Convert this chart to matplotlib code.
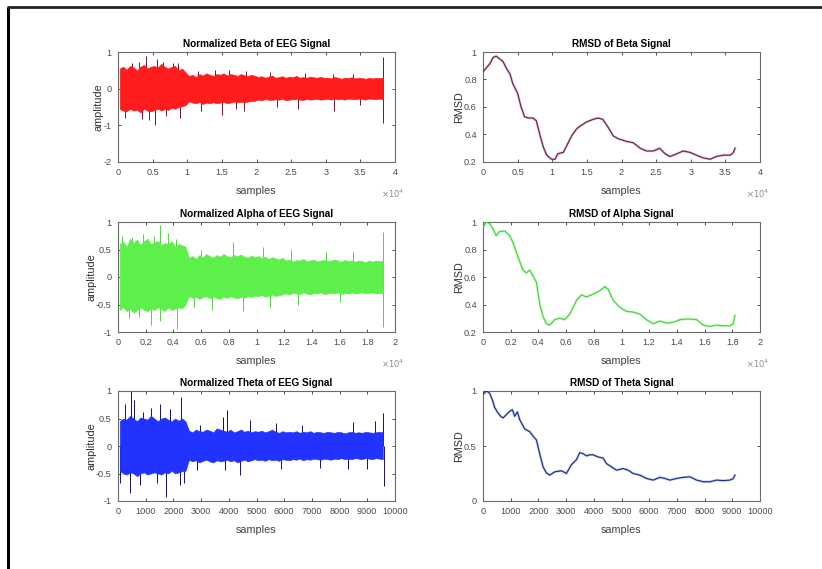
import numpy as np
import matplotlib
matplotlib.use("Agg")
import matplotlib.pyplot as plt
from matplotlib.ticker import FuncFormatter, FixedLocator
from matplotlib.lines import Line2D

plt.rcParams['axes.unicode_minus'] = False
NARROW = ['Liberation Sans Narrow', 'Liberation Sans', 'DejaVu Sans']
plt.rcParams['font.family'] = NARROW

# ---------------- band-pass signals: per-bin envelope of the dense trace ----------------
beta_end = 38500
beta_upper = [0.55, 0.6, 0.52, 0.62, 0.58, 0.5, 0.6, 0.65, 0.55, 0.6,
              0.62, 0.58, 0.68, 0.6, 0.55, 0.6, 0.62, 0.5, 0.55, 0.45,
              0.35, 0.38, 0.32, 0.4, 0.36, 0.42, 0.38, 0.35, 0.4, 0.38,
              0.42, 0.36, 0.4, 0.38, 0.35, 0.4, 0.37, 0.34, 0.38, 0.35,
              0.32, 0.34, 0.3, 0.33, 0.36, 0.3, 0.32, 0.34, 0.3, 0.33,
              0.31, 0.35, 0.3, 0.32, 0.3, 0.33, 0.31, 0.3, 0.32, 0.3,
              0.3, 0.28, 0.32, 0.3, 0.27, 0.3, 0.29, 0.31, 0.28, 0.3,
              0.29, 0.27, 0.3, 0.28, 0.3, 0.29, 0.3]
beta_lower = [-0.55, -0.6, -0.62, -0.55, -0.6, -0.58, -0.65, -0.55, -0.6, -0.62,
              -0.58, -0.55, -0.6, -0.55, -0.58, -0.52, -0.55, -0.5, -0.48, -0.45,
              -0.35, -0.38, -0.4, -0.36, -0.42, -0.38, -0.4, -0.37, -0.4, -0.38,
              -0.36, -0.4, -0.38, -0.35, -0.37, -0.36, -0.38, -0.35, -0.34, -0.33,
              -0.3, -0.32, -0.28, -0.3, -0.31, -0.29, -0.3, -0.28, -0.32, -0.3,
              -0.29, -0.28, -0.3, -0.31, -0.28, -0.3, -0.29, -0.28, -0.3, -0.29,
              -0.28, -0.3, -0.27, -0.29, -0.28, -0.3, -0.27, -0.28, -0.29, -0.27,
              -0.28, -0.3, -0.27, -0.28, -0.29, -0.27, -0.3]
beta_spike_x = [1000, 2000, 3000, 3500, 4000, 4500, 5300, 5700, 6500, 7000, 8000, 8600, 9000,
                11500, 12000, 14000, 15000, 16000, 17000, 18200, 18500, 22000, 23000,
                26000, 27000, 31000, 31200, 34000, 35000, 38200, 38300]
beta_spike_y = [-0.8, 0.7, 0.72, -0.82, 0.88, -0.85, -1.0, 0.8, 0.72, -0.75, 0.7, 0.7, -0.8,
                0.48, -0.6, 0.5, -0.72, 0.52, -0.55, -0.6, 0.47, 0.45, -0.5,
                -0.55, 0.42, 0.4, -0.6, 0.4, -0.45, 0.85, -0.95]

alpha_end = 19250
alpha_upper = [0.6, 0.65, 0.55, 0.7, 0.62, 0.68, 0.58, 0.65, 0.7, 0.6,
               0.63, 0.66, 0.58, 0.62, 0.6, 0.65, 0.55, 0.6, 0.58, 0.55,
               0.35, 0.38, 0.33, 0.4, 0.36, 0.42, 0.38, 0.35, 0.4, 0.37,
               0.42, 0.38, 0.36, 0.4, 0.38, 0.41, 0.37, 0.35, 0.39, 0.36,
               0.38, 0.35, 0.37, 0.33, 0.36, 0.34, 0.32, 0.35,
               0.3, 0.32, 0.28, 0.31, 0.3, 0.33, 0.29, 0.3, 0.32, 0.28,
               0.3, 0.31, 0.29, 0.3, 0.32, 0.3, 0.28, 0.31, 0.29, 0.3,
               0.28, 0.3, 0.29, 0.27, 0.3, 0.28, 0.3, 0.29, 0.3]
alpha_lower = [-0.6, -0.55, -0.62, -0.58, -0.65, -0.6, -0.55, -0.6, -0.62, -0.58,
               -0.6, -0.55, -0.58, -0.62, -0.55, -0.6, -0.58, -0.55, -0.57, -0.5,
               -0.35, -0.38, -0.36, -0.4, -0.37, -0.35, -0.39, -0.36, -0.38, -0.4,
               -0.36, -0.38, -0.35, -0.37, -0.39, -0.36, -0.38, -0.35, -0.36, -0.34,
               -0.35, -0.33, -0.36, -0.34, -0.32, -0.35, -0.33, -0.32,
               -0.3, -0.32, -0.29, -0.3, -0.31, -0.28, -0.3, -0.32, -0.29, -0.3,
               -0.28, -0.31, -0.3, -0.29, -0.3, -0.28, -0.31, -0.29, -0.3, -0.28,
               -0.3, -0.29, -0.28, -0.3, -0.29, -0.28, -0.3, -0.29, -0.3]
alpha_spike_x = [300, 800, 1000, 1500, 1800, 2400, 2600, 3000, 3050, 3600, 4200, 4250,
                 5500, 6000, 6800, 8300, 9000, 10500, 11000, 12500, 13000, 15000, 16000,
                 17000, 19100, 19150]
alpha_spike_y = [0.75, -0.75, 0.72, -0.72, 0.78, -0.88, 0.75, 0.95, -0.8, 0.8, 0.7, -0.95,
                 -0.55, 0.5, -0.6, 0.63, -0.62, 0.55, -0.55, 0.5, -0.5, 0.45, -0.45,
                 0.45, -0.9, 0.82]

theta_end = 9625
theta_upper = [0.45, 0.5, 0.48, 0.55, 0.5, 0.45, 0.52, 0.5, 0.48, 0.55,
               0.5, 0.45, 0.5, 0.52, 0.48, 0.45, 0.5, 0.46, 0.5, 0.45,
               0.28, 0.25, 0.3, 0.27, 0.26, 0.3, 0.28, 0.25, 0.32, 0.3,
               0.28, 0.26, 0.3, 0.25, 0.27, 0.3, 0.26, 0.28, 0.25, 0.27,
               0.26, 0.28, 0.25, 0.27, 0.3, 0.26, 0.24, 0.27, 0.25, 0.26,
               0.25, 0.27, 0.24, 0.26, 0.25, 0.27, 0.24, 0.26, 0.25, 0.24,
               0.26, 0.25, 0.24, 0.26, 0.25, 0.23, 0.25, 0.26, 0.24, 0.25,
               0.24, 0.26, 0.25, 0.24, 0.25, 0.26, 0.25]
theta_lower = [-0.45, -0.5, -0.52, -0.48, -0.5, -0.55, -0.5, -0.48, -0.52, -0.5,
               -0.48, -0.5, -0.52, -0.48, -0.5, -0.45, -0.5, -0.48, -0.46, -0.45,
               -0.25, -0.28, -0.26, -0.3, -0.27, -0.25, -0.28, -0.3, -0.26, -0.28,
               -0.27, -0.25, -0.28, -0.26, -0.3, -0.27, -0.25, -0.28, -0.26, -0.24,
               -0.26, -0.25, -0.27, -0.24, -0.26, -0.25, -0.27, -0.24, -0.25, -0.26,
               -0.24, -0.25, -0.23, -0.26, -0.24, -0.25, -0.23, -0.24, -0.25, -0.23,
               -0.24, -0.25, -0.23, -0.24, -0.22, -0.24, -0.23, -0.24, -0.22, -0.23,
               -0.24, -0.22, -0.23, -0.24, -0.22, -0.23, -0.24]
theta_spike_x = [60, 240, 420, 480, 560, 780, 900, 1200, 1390, 1500, 1750, 1870, 2230, 2290, 2400,
                 2850, 2950, 3800, 3850, 3920, 4400, 4750, 5720, 5900, 6650, 7300, 8300, 8500,
                 9000, 9280, 9580, 9600]
theta_spike_y = [-0.68, 0.77, -0.85, 1.0, 0.83, -0.7, 0.62, 0.7, -0.68, 0.77, -0.92, 0.68, -0.7, 0.9, -0.68,
                 -0.43, 0.38, 0.53, -0.43, 0.65, -0.52, 0.47, 0.41, -0.42, 0.38, -0.4, -0.42, 0.43,
                 -0.42, 0.45, 0.6, -0.73]

# ---------------- running RMSD curves ----------------
beta_rmsd_x = [0, 500, 1000, 1450, 1900, 2400, 2900, 3400, 3900, 4300, 5000, 5500, 6000, 6500,
               7200, 7700, 8200, 8700, 9200, 9900, 10400, 10800, 11600, 12000, 12800, 13500,
               14000, 14900, 15900, 16600, 17300, 18100, 18800, 19500, 20700, 21700, 22700,
               23600, 24600, 25500, 26300, 27000, 28000, 28900, 29900, 30800, 31800, 32800,
               33700, 34700, 35700, 36100, 36400]
beta_rmsd_y = [0.855, 0.886, 0.915, 0.96, 0.97, 0.95, 0.93, 0.88, 0.84, 0.77, 0.70, 0.60, 0.53,
               0.52, 0.52, 0.50, 0.40, 0.31, 0.25, 0.22, 0.22, 0.26, 0.27, 0.31, 0.39, 0.44,
               0.46, 0.49, 0.51, 0.52, 0.51, 0.45, 0.39, 0.37, 0.35, 0.34, 0.30, 0.28, 0.28,
               0.30, 0.26, 0.24, 0.26, 0.28, 0.27, 0.25, 0.23, 0.22, 0.24, 0.25, 0.25, 0.265,
               0.30]

alpha_rmsd_x = [0, 240, 480, 720, 960, 1200, 1570, 1930, 2170, 2530, 2890, 3130, 3370, 3610,
                3860, 4100, 4340, 4580, 4820, 5180, 5540, 5900, 6270, 6750, 7110, 7470, 7950,
                8430, 8800, 9040, 9400, 9880, 10360, 10840, 11330, 11800, 12290, 12770, 13250,
                13730, 14220, 14820, 15420, 15900, 16380, 16870, 17350, 17830, 18070, 18190]
alpha_rmsd_y = [0.96, 1.0, 0.99, 0.95, 0.90, 0.93, 0.935, 0.90, 0.85, 0.745, 0.65, 0.63, 0.65,
                0.61, 0.56, 0.40, 0.31, 0.26, 0.25, 0.29, 0.30, 0.29, 0.33, 0.43, 0.47, 0.455,
                0.475, 0.50, 0.53, 0.51, 0.43, 0.38, 0.35, 0.345, 0.33, 0.29, 0.26, 0.28, 0.265,
                0.27, 0.29, 0.295, 0.29, 0.25, 0.24, 0.25, 0.245, 0.245, 0.26, 0.32]

theta_rmsd_x = [0, 120, 240, 337, 422, 542, 639, 723, 843, 964, 1060, 1145, 1241, 1325, 1506,
                1687, 1807, 1928, 2048, 2169, 2289, 2410, 2590, 2831, 3012, 3193, 3373, 3494,
                3614, 3735, 3855, 3976, 4157, 4337, 4458, 4639, 4819, 5060, 5241, 5422, 5663,
                5904, 6145, 6386, 6566, 6747, 6988, 7229, 7470, 7711, 7952, 8193, 8434, 8675,
                8916, 9036, 9096]
theta_rmsd_y = [0.97, 1.0, 0.98, 0.92, 0.85, 0.80, 0.77, 0.755, 0.785, 0.815, 0.83, 0.77, 0.81,
                0.74, 0.655, 0.63, 0.59, 0.555, 0.43, 0.31, 0.255, 0.235, 0.265, 0.275, 0.25,
                0.33, 0.375, 0.44, 0.43, 0.41, 0.42, 0.42, 0.40, 0.39, 0.34, 0.31, 0.28, 0.295,
                0.28, 0.25, 0.235, 0.205, 0.19, 0.215, 0.205, 0.19, 0.205, 0.215, 0.22, 0.19,
                0.175, 0.175, 0.19, 0.185, 0.19, 0.205, 0.235]

# ---------------- figure ----------------
W, H = 822, 569
fig = plt.figure(figsize=(W / 100, H / 100), dpi=100)

# left/top frame lines of the page
fig.add_artist(Line2D([8 / W, 8 / W], [0, 1 - 7 / H], color='black', lw=2.2,
                      transform=fig.transFigure, solid_capstyle='butt'))
fig.add_artist(Line2D([7 / W, 1], [1 - 7 / H, 1 - 7 / H], color='#222222', lw=2.0,
                      transform=fig.transFigure, solid_capstyle='butt'))


def make_axes(x0, y0):
    return fig.add_axes([x0 / W, 1 - (y0 + 110) / H, 277 / W, 110 / H])


g = FuncFormatter(lambda v, p: '%g' % v)
TICK_C = '#4a4a4a'


def style(ax, xmax, xstep, ylim, yticks, scaled, title, ylabel):
    ax.set_xlim(0, xmax)
    ax.set_ylim(*ylim)
    ax.xaxis.set_major_locator(FixedLocator(np.arange(0, xmax + 1, xstep)))
    ax.yaxis.set_major_locator(FixedLocator(yticks))
    if scaled:
        ax.xaxis.set_major_formatter(FuncFormatter(lambda v, p: '%g' % (v / 1e4)))
        ax.text(0.99, -0.29, r'$\times10^4$', transform=ax.transAxes, ha='center',
                va='center', fontsize=6, color='#8a8a8a', family=NARROW)
    else:
        ax.xaxis.set_major_formatter(g)
    ax.yaxis.set_major_formatter(g)
    ax.tick_params(direction='in', top=True, right=True, length=2.5, width=0.6,
                   labelsize=6.6, colors='#303030', labelcolor=TICK_C, pad=4.5)
    for s in ax.spines.values():
        s.set_color('#6a6a6a')
        s.set_linewidth(0.8)
    ax.set_title(title, fontsize=7.2, fontweight='bold', pad=3.5)
    ax.set_xlabel('samples', fontsize=7.8, color='#404040', labelpad=6)
    ax.set_ylabel(ylabel, fontsize=7.8, color='#303030', labelpad=0)


def band(ax, end, upper, lower, sx, sy, color, spike_color):
    n = len(upper)
    step = end / n
    xc = (np.arange(n) + 0.5) * step
    ax.vlines(sx, 0, sy, color=spike_color, lw=0.7, zorder=2)
    ax.fill_between(xc, lower, upper, color=color, lw=0.4, edgecolor=color, zorder=3)


def rmsd(ax, x, y, core, halo):
    ax.plot(x, y, color=halo, lw=1.8, alpha=0.6, zorder=2)
    ax.plot(x, y, color=core, lw=0.8, zorder=3)


# row 1
ax = make_axes(118, 52)
band(ax, beta_end, beta_upper, beta_lower, beta_spike_x, beta_spike_y, '#ff1c1c', '#7a1030')
style(ax, 40000, 5000, (-2, 1), [-2, -1, 0, 1], True, 'Normalized Beta of EEG Signal', 'amplitude')

ax = make_axes(483, 52)
rmsd(ax, beta_rmsd_x, beta_rmsd_y, '#4a2a55', '#f08aa8')
style(ax, 40000, 5000, (0.2, 1), [0.2, 0.4, 0.6, 0.8, 1], True, 'RMSD of Beta Signal', 'RMSD')

# row 2
ax = make_axes(118, 222)
band(ax, alpha_end, alpha_upper, alpha_lower, alpha_spike_x, alpha_spike_y, '#5ef04a', '#55d045')
style(ax, 20000, 2000, (-1, 1), [-1, -0.5, 0, 0.5, 1], True, 'Normalized Alpha of EEG Signal', 'amplitude')

ax = make_axes(483, 222)
rmsd(ax, alpha_rmsd_x, alpha_rmsd_y, '#45d43c', '#a8f0a0')
style(ax, 20000, 2000, (0.2, 1), [0.2, 0.4, 0.6, 0.8, 1], True, 'RMSD of Alpha Signal', 'RMSD')

# row 3
ax = make_axes(118, 391)
band(ax, theta_end, theta_upper, theta_lower, theta_spike_x, theta_spike_y, '#2233ff', '#101060')
style(ax, 10000, 1000, (-1, 1), [-1, -0.5, 0, 0.5, 1], False, 'Normalized Theta of EEG Signal', 'amplitude')

ax = make_axes(483, 391)
rmsd(ax, theta_rmsd_x, theta_rmsd_y, '#1c2a80', '#98a6ec')
style(ax, 10000, 1000, (0, 1), [0, 0.5, 1], False, 'RMSD of Theta Signal', 'RMSD')

fig.savefig('out.png', dpi=100)
